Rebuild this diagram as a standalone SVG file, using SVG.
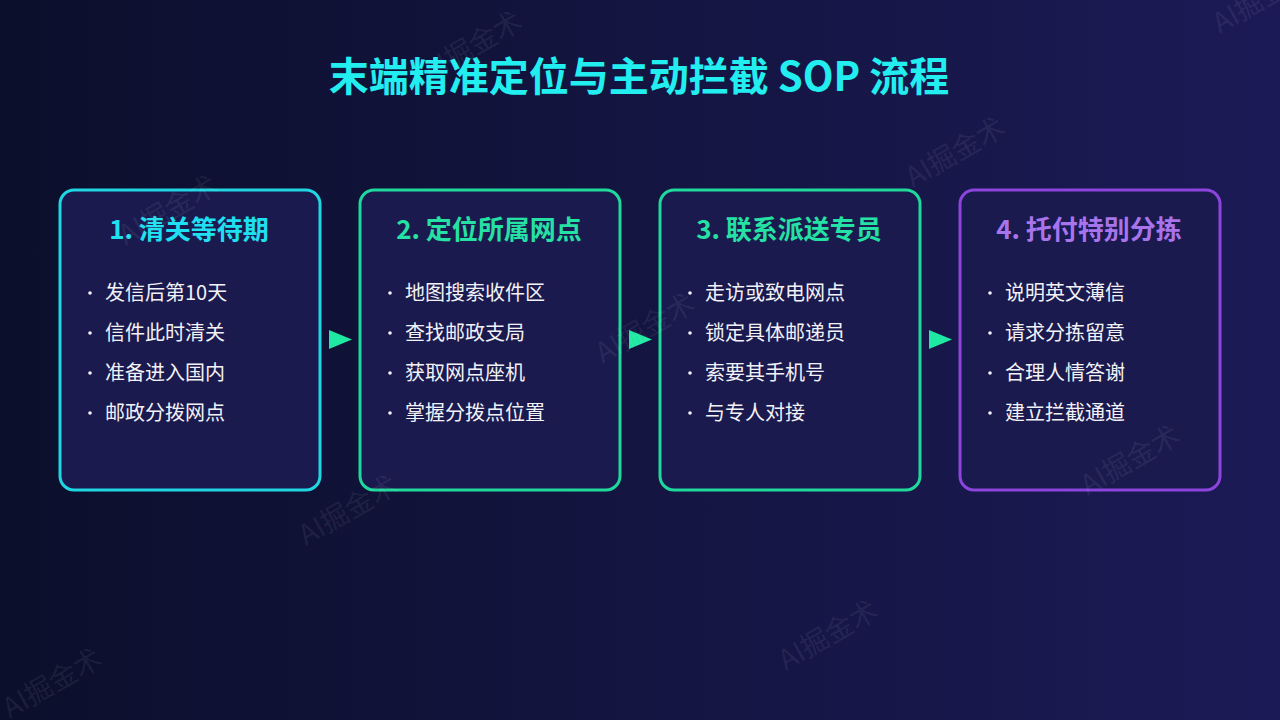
<svg xmlns="http://www.w3.org/2000/svg" width="1280" height="720" viewBox="0 0 1280 720">
<defs>
<linearGradient id="bg" x1="0" y1="0" x2="1" y2="0">
<stop offset="0" stop-color="#0b0f2b"/>
<stop offset="1" stop-color="#1c1a56"/>
</linearGradient>
<style>
.t{font-family:"Noto Sans CJK SC","Noto Sans",sans-serif}
.title{font-size:40px;font-weight:700;fill:#22eef0}
.h{font-size:26px;font-weight:700;text-anchor:middle}
.b{font-size:20px;fill:#f2f2f6}
.dot{fill:#f2f2f6}
.box{fill:#1a1a4f;stroke-width:3}
.arr{fill:#1ee8a2}
.wm{font-size:28px;fill:#ffffff;fill-opacity:0.08;text-anchor:middle}
</style>
</defs>
<rect width="1280" height="720" fill="url(#bg)"/>
<text class="t title" x="639" y="91" text-anchor="middle">末端精准定位与主动拦截 SOP 流程</text>

<g id="node1">
<rect class="box" x="60" y="190" width="260" height="300" rx="14" stroke="#1fd6e2"/>
<text class="t h" x="189" y="239" fill="#1ee0f0">1. 清关等待期</text>
<circle class="dot" cx="90" cy="293" r="1.8"/><text class="t b" x="105" y="300">发信后第10天</text>
<circle class="dot" cx="90" cy="333" r="1.8"/><text class="t b" x="105" y="340">信件此时清关</text>
<circle class="dot" cx="90" cy="373" r="1.8"/><text class="t b" x="105" y="380">准备进入国内</text>
<circle class="dot" cx="90" cy="413" r="1.8"/><text class="t b" x="105" y="420">邮政分拨网点</text>
</g>
<g id="node2">
<rect class="box" x="360" y="190" width="260" height="300" rx="14" stroke="#1fd89c"/>
<text class="t h" x="489" y="239" fill="#25e2a4">2. 定位所属网点</text>
<circle class="dot" cx="390" cy="293" r="1.8"/><text class="t b" x="405" y="300">地图搜索收件区</text>
<circle class="dot" cx="390" cy="333" r="1.8"/><text class="t b" x="405" y="340">查找邮政支局</text>
<circle class="dot" cx="390" cy="373" r="1.8"/><text class="t b" x="405" y="380">获取网点座机</text>
<circle class="dot" cx="390" cy="413" r="1.8"/><text class="t b" x="405" y="420">掌握分拨点位置</text>
</g>
<g id="node3">
<rect class="box" x="660" y="190" width="260" height="300" rx="14" stroke="#1fd89c"/>
<text class="t h" x="789" y="239" fill="#25e2a4">3. 联系派送专员</text>
<circle class="dot" cx="690" cy="293" r="1.8"/><text class="t b" x="705" y="300">走访或致电网点</text>
<circle class="dot" cx="690" cy="333" r="1.8"/><text class="t b" x="705" y="340">锁定具体邮递员</text>
<circle class="dot" cx="690" cy="373" r="1.8"/><text class="t b" x="705" y="380">索要其手机号</text>
<circle class="dot" cx="690" cy="413" r="1.8"/><text class="t b" x="705" y="420">与专人对接</text>
</g>
<g id="node4">
<rect class="box" x="960" y="190" width="260" height="300" rx="14" stroke="#8b44dc"/>
<text class="t h" x="1089" y="239" fill="#a874ec">4. 托付特别分拣</text>
<circle class="dot" cx="990" cy="293" r="1.8"/><text class="t b" x="1005" y="300">说明英文薄信</text>
<circle class="dot" cx="990" cy="333" r="1.8"/><text class="t b" x="1005" y="340">请求分拣留意</text>
<circle class="dot" cx="990" cy="373" r="1.8"/><text class="t b" x="1005" y="380">合理人情答谢</text>
<circle class="dot" cx="990" cy="413" r="1.8"/><text class="t b" x="1005" y="420">建立拦截通道</text>
</g>
<g id="connectors">
<polygon class="arr" points="329,330 352,339.5 329,349"/>
<polygon class="arr" points="629,330 652,339.5 629,349"/>
<polygon class="arr" points="929,330 952,339.5 929,349"/>
</g>
<g id="watermarks">
<text class="t wm" x="472" y="56" transform="rotate(-30 472 46)">AI掘金术</text>
<text class="t wm" x="168" y="220" transform="rotate(-30 168 210)">AI掘金术</text>
<text class="t wm" x="955" y="162" transform="rotate(-30 955 152)">AI掘金术</text>
<text class="t wm" x="645" y="338" transform="rotate(-30 645 328)">AI掘金术</text>
<text class="t wm" x="348" y="520" transform="rotate(-30 348 510)">AI掘金术</text>
<text class="t wm" x="1130" y="470" transform="rotate(-30 1130 460)">AI掘金术</text>
<text class="t wm" x="828" y="645" transform="rotate(-30 828 635)">AI掘金术</text>
<text class="t wm" x="52" y="693" transform="rotate(-30 52 683)">AI掘金术</text>
<text class="t wm" x="1262" y="8" transform="rotate(-30 1262 -2)">AI掘金术</text>
</g>
</svg>
